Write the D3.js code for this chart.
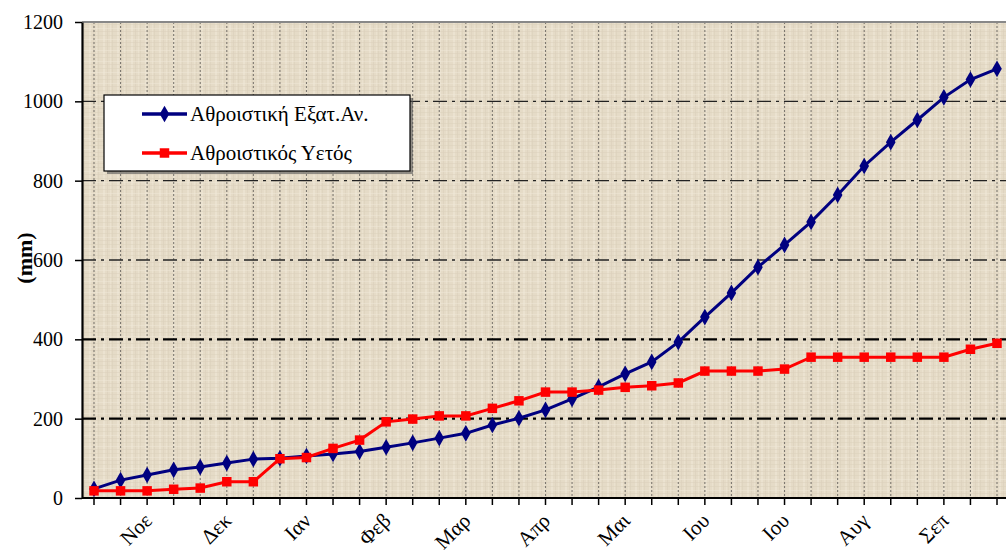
<!DOCTYPE html>
<html>
<head>
<meta charset="utf-8">
<script src="https://cdn.jsdelivr.net/npm/d3@7"></script>
<style>
  body { margin: 0; background: #fff; }
  svg { display: block; }
</style>
</head>
<body>
<div id="chart"></div>
<script>
// Cumulative values per ten-day period (mm)
var evaporation = [23, 45, 58, 71, 78, 88, 98, 100, 106, 111, 117, 128,
                   139, 151, 163, 184, 201, 222, 250, 280, 313, 343, 393, 456,
                   517, 582, 638, 696, 764, 837, 897, 953, 1010, 1055, 1082];
var rainfall    = [18, 18, 18, 22, 25, 41, 41, 99, 102, 125, 146, 192,
                   199, 207, 207, 226, 245, 267, 267, 272, 279, 283, 290, 320,
                   320, 320, 325, 355, 355, 355, 355, 355, 355, 375, 390];

// x axis labels, one per period (month name on its middle period)
var periodLabels = ["", "", "Νοε", "", "", "Δεκ", "", "", "Ιαν", "", "", "Φεβ",
                    "", "", "Μαρ", "", "", "Απρ", "", "", "Μαι", "", "", "Ιου",
                    "", "", "Ιου", "", "", "Αυγ", "", "", "Σεπ", "", ""];
var yTicks = [0, 200, 400, 600, 800, 1000, 1200];

var seriesNames = ["Αθροιστική Εξατ.Αν.", "Αθροιστικός Υετός"];

var width = 1006, height = 555;
var plot = { left: 82, right: 1012, top: 22, bottom: 498 };
var font = '"Liberation Serif", serif';

var svg = d3.select('#chart').append('svg')
  .attr('width', width)
  .attr('height', height);

var x = d3.scaleLinear().domain([0, periodLabels.length - 1]).range([94, 997]);
var y = d3.scaleLinear().domain([0, 1200]).range([plot.bottom, plot.top]);

// Background texture (canvas-like)
var defs = svg.append('defs');
var pat = defs.append('pattern')
  .attr('id', 'canvas')
  .attr('patternUnits', 'userSpaceOnUse')
  .attr('width', 14).attr('height', 11);
pat.append('rect').attr('width', 14).attr('height', 11).attr('fill', '#e5dbc7');
[[0, 1, '#dbd0bb'], [5, 2, '#eee6d6'], [9, 1, '#dacfba'], [12, 1, '#ece4d2']].forEach(function(c) {
  pat.append('rect').attr('x', c[0]).attr('y', 0).attr('width', c[1]).attr('height', 11)
    .attr('fill', c[2]).attr('opacity', 0.6);
});
[[2, 1, '#dcd1bc'], [6, 1, '#efe7d8'], [9, 1, '#dbd0bb']].forEach(function(c) {
  pat.append('rect').attr('x', 0).attr('y', c[0]).attr('width', 14).attr('height', c[1])
    .attr('fill', c[2]).attr('opacity', 0.5);
});

svg.append('rect')
  .attr('x', plot.left).attr('y', plot.top)
  .attr('width', plot.right - plot.left).attr('height', plot.bottom - plot.top)
  .attr('fill', 'url(#canvas)');

// Vertical dotted grid
svg.append('g').selectAll('line')
  .data(periodLabels)
  .enter().append('line')
    .attr('x1', function(d, i) { return x(i); })
    .attr('x2', function(d, i) { return x(i); })
    .attr('y1', plot.top)
    .attr('y2', plot.bottom)
    .attr('stroke', '#7d7870')
    .attr('stroke-width', 1.1)
    .attr('stroke-dasharray', '2,2');

// Horizontal dash-dot grid
svg.append('g').selectAll('line')
  .data(yTicks.filter(function(v) { return v > 0 && v < 1200; }))
  .enter().append('line')
    .attr('x1', plot.left)
    .attr('x2', plot.right)
    .attr('y1', function(v) { return y(v); })
    .attr('y2', function(v) { return y(v); })
    .attr('stroke', function(v) { return v <= 400 ? '#000' : '#222'; })
    .attr('stroke-width', function(v) { return v <= 400 ? 2.2 : 1.4; })
    .attr('stroke-dasharray', '14,5,3,5');

// top border
svg.append('line')
  .attr('x1', plot.left).attr('x2', plot.right)
  .attr('y1', plot.top).attr('y2', plot.top)
  .attr('stroke', '#888').attr('stroke-width', 2);

// Y axis
var yAxis = svg.append('g')
  .attr('transform', 'translate(' + plot.left + ',0)')
  .call(d3.axisLeft(y).tickValues(yTicks).tickFormat(d3.format('d'))
    .tickSize(7).tickPadding(12).tickSizeOuter(0));
yAxis.select('.domain').attr('stroke', '#000').attr('stroke-width', 2.2);
yAxis.selectAll('.tick line').attr('stroke', '#000').attr('stroke-width', 1.5);
yAxis.selectAll('text')
  .attr('font-family', font)
  .attr('font-size', 20)
  .attr('fill', '#000');

// X axis
var xAxis = svg.append('g');
xAxis.append('line')
  .attr('x1', plot.left).attr('x2', plot.right)
  .attr('y1', plot.bottom).attr('y2', plot.bottom)
  .attr('stroke', '#000').attr('stroke-width', 2.2);
xAxis.selectAll('line.tick')
  .data(periodLabels)
  .enter().append('line')
    .attr('class', 'tick')
    .attr('x1', function(d, i) { return x(i); })
    .attr('x2', function(d, i) { return x(i); })
    .attr('y1', plot.bottom)
    .attr('y2', plot.bottom + 7)
    .attr('stroke', '#000')
    .attr('stroke-width', 1.5);
periodLabels.forEach(function(lab, i) {
  if (lab === '') return;
  xAxis.append('text')
    .attr('transform', 'translate(' + (x(i) + 6) + ',' + (plot.bottom + 24) + ') rotate(-45)')
    .attr('text-anchor', 'end')
    .attr('font-family', font)
    .attr('font-size', 21)
    .text(lab);
});

// Y title
svg.append('text')
  .attr('transform', 'translate(32,258) rotate(-90)')
  .attr('text-anchor', 'middle')
  .attr('font-family', font)
  .attr('font-weight', 'bold')
  .attr('font-size', 22)
  .text('(mm)');

// Lines
var line = d3.line()
  .x(function(d, i) { return x(i); })
  .y(function(d) { return y(d); });

var series = [
  { values: evaporation, color: '#000080', symbol: d3.symbolDiamond, size: 80 },
  { values: rainfall, color: '#ff0000', symbol: d3.symbolSquare, size: 90 }
];

series.forEach(function(s) {
  svg.append('path')
    .datum(s.values)
    .attr('d', line)
    .attr('fill', 'none')
    .attr('stroke', s.color)
    .attr('stroke-width', 3);
  svg.append('g').selectAll('path')
    .data(s.values)
    .enter().append('path')
      .attr('transform', function(d, i) { return 'translate(' + x(i) + ',' + y(d) + ')'; })
      .attr('d', d3.symbol().type(s.symbol).size(s.size))
      .attr('fill', s.color);
});

// Legend
var leg = svg.append('g').attr('transform', 'translate(104,95)');
leg.append('rect').attr('x', 3).attr('y', 3).attr('width', 306).attr('height', 76)
  .attr('fill', '#555').attr('opacity', 0.6);
leg.append('rect').attr('width', 306).attr('height', 76)
  .attr('fill', '#fff').attr('stroke', '#000').attr('stroke-width', 1.2);
series.forEach(function(s, i) {
  var ly = 19 + i * 39;
  leg.append('line')
    .attr('x1', 38).attr('x2', 83).attr('y1', ly).attr('y2', ly)
    .attr('stroke', s.color).attr('stroke-width', 3.5);
  leg.append('path')
    .attr('transform', 'translate(60.5,' + ly + ')')
    .attr('d', d3.symbol().type(s.symbol).size(s.size))
    .attr('fill', s.color);
  leg.append('text')
    .attr('x', 86).attr('y', ly + 7)
    .attr('font-family', font)
    .attr('font-size', 21)
    .text(seriesNames[i]);
});
</script>
</body>
</html>
